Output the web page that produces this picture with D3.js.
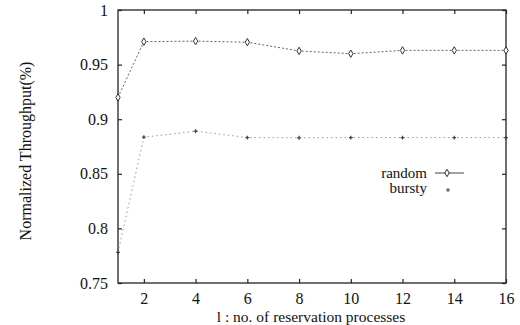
<!DOCTYPE html>
<html><head><meta charset="utf-8">
<script src="https://cdn.jsdelivr.net/npm/d3@7"></script>
<style>body{margin:0;background:#fff}svg{display:block}text{font-family:"Liberation Serif","Times New Roman",serif;fill:#111}</style>
</head><body><svg id="c" width="520" height="325"></svg>
<script>
const xs = [1, 2, 4, 6, 8, 10, 12, 14, 16];
const randomVals = [0.920, 0.971, 0.9715, 0.9705, 0.9625, 0.960, 0.963, 0.963, 0.963];
const burstyVals = [0.778, 0.8835, 0.8890, 0.8832, 0.8830, 0.8832, 0.8832, 0.8832, 0.8832];
const xTicks = [2, 4, 6, 8, 10, 12, 14, 16];
const yTicks = [0.75, 0.8, 0.85, 0.9, 0.95, 1];
const yTickLabels = ["0.75", "0.8", "0.85", "0.9", "0.95", "1"];

const svg = d3.select("#c");
const L = 118, R = 506, T = 10, B = 283;
const x = d3.scaleLinear().domain([1, 16]).range([L, R]);
const y = d3.scaleLinear().domain([0.75, 1]).range([B, T]);

// frame
svg.append("rect").attr("x", L).attr("y", T).attr("width", R - L).attr("height", B - T)
  .attr("fill", "none").attr("stroke", "#222").attr("stroke-width", 1.3);

// axes
const ax = svg.append("g").attr("transform", `translate(0,${B})`)
  .call(d3.axisBottom(x).tickValues(xTicks).tickSizeInner(-4).tickSizeOuter(0).tickPadding(10));
const axT = svg.append("g").attr("transform", `translate(0,${T})`)
  .call(d3.axisTop(x).tickValues(xTicks).tickSizeInner(-4).tickSizeOuter(0).tickFormat(""));
const ay = svg.append("g").attr("transform", `translate(${L},0)`)
  .call(d3.axisLeft(y).tickValues(yTicks).tickSizeInner(-4).tickSizeOuter(0).tickPadding(10)
    .tickFormat((d, i) => yTickLabels[i]));
const ayR = svg.append("g").attr("transform", `translate(${R},0)`)
  .call(d3.axisRight(y).tickValues(yTicks).tickSizeInner(-4).tickSizeOuter(0).tickFormat(""));
[ax, axT, ay, ayR].forEach(g => {
  g.select(".domain").remove();
  g.selectAll("line").attr("stroke", "#222").attr("stroke-width", 1.2);
  g.selectAll("text").attr("font-size", 16).attr("font-family", "Liberation Serif").attr("fill", "#111");
});

const line = d3.line().x(d => x(d[0])).y(d => y(d[1]));
const rData = xs.map((v, i) => [v, randomVals[i]]);
const bData = xs.map((v, i) => [v, burstyVals[i]]);

svg.append("path").datum(rData).attr("d", line).attr("fill", "none")
  .attr("stroke", "#666").attr("stroke-width", 1).attr("stroke-dasharray", "2,2");
svg.append("path").datum(bData).attr("d", line).attr("fill", "none")
  .attr("stroke", "#999").attr("stroke-width", 1).attr("stroke-dasharray", "1.5,3");

const diamond = d3.symbol().type(d3.symbolDiamond).size(16);
svg.selectAll(".rm").data(rData).enter().append("path")
  .attr("transform", d => `translate(${x(d[0])},${y(d[1])})`)
  .attr("d", diamond).attr("fill", "#fff").attr("stroke", "#333").attr("stroke-width", 1);
svg.selectAll(".bm").data(bData).enter().append("path")
  .attr("transform", d => `translate(${x(d[0])},${y(d[1])})`)
  .attr("d", d3.symbol().type(d3.symbolCross).size(8)).attr("fill", "#444");

// legend
svg.append("text").attr("x", 427).attr("y", 178).attr("text-anchor", "end").attr("font-size", 15).text("random");
svg.append("line").attr("x1", 435).attr("x2", 464).attr("y1", 173).attr("y2", 173).attr("stroke", "#444").attr("stroke-width", 1);
svg.append("path").attr("transform", "translate(447,173)").attr("d", diamond).attr("fill", "#fff").attr("stroke", "#333");
svg.append("text").attr("x", 427).attr("y", 193).attr("text-anchor", "end").attr("font-size", 15).text("bursty");
svg.append("path").attr("transform", "translate(448,190)").attr("d", d3.symbol().type(d3.symbolCross).size(8)).attr("fill", "#666");

// axis titles
svg.append("text").attr("x", 311).attr("y", 322).attr("text-anchor", "middle").attr("font-size", 15.5)
  .text("l : no. of reservation processes");
svg.append("text").attr("transform", "translate(31,151) rotate(-90)").attr("text-anchor", "middle").attr("font-size", 16)
  .text("Normalized Throughput(%)");
</script></body></html>
